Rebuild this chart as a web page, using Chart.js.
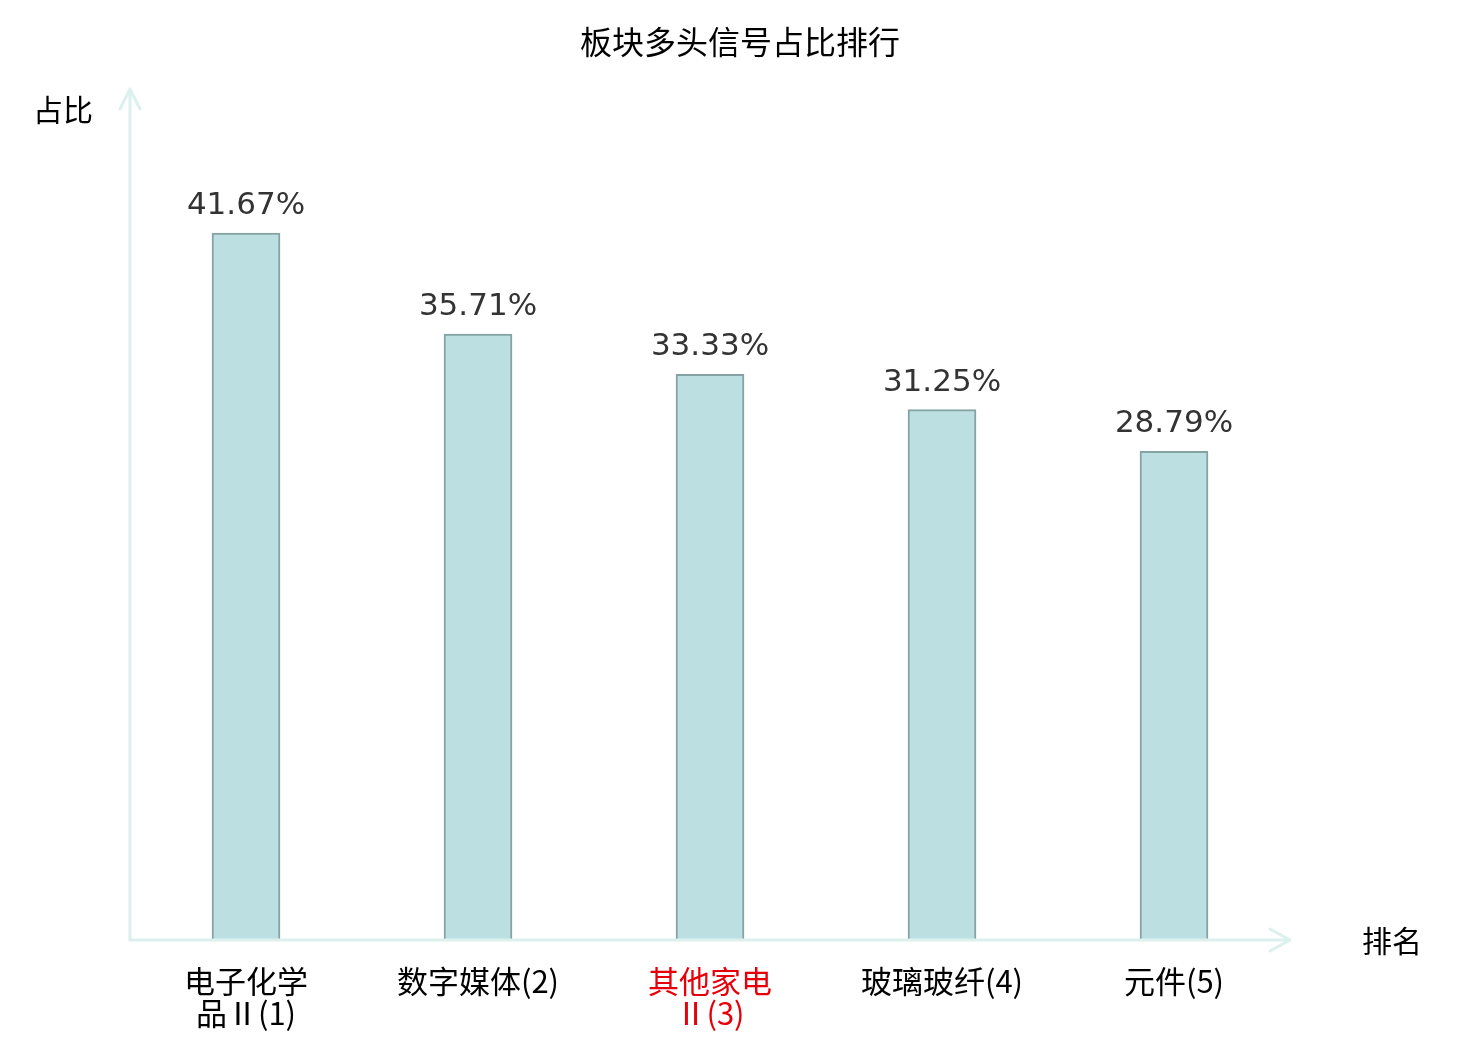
<!DOCTYPE html>
<html>
<head>
<meta charset="utf-8">
<script src="https://cdn.jsdelivr.net/npm/chart.js@4.4.1/dist/chart.umd.min.js"></script>
<style>
  html, body { margin: 0; padding: 0; background: #fff; }
  #wrap { width: 1480px; height: 1040px; }
</style>
</head>
<body>
<div id="wrap"><canvas id="chart"></canvas></div>
<script>
// Daten
const categories = [
    ['电子化学', '品Ⅱ(1)'],
    '数字媒体(2)',
    ['其他家电', 'Ⅱ(3)'],
    '玻璃玻纤(4)',
    '元件(5)'
];
const shares = [41.67, 35.71, 33.33, 31.25, 28.79];
const highlightIndex = 2;

const AXIS_COLOR = '#dcf0ed';
const CJK = '"Noto Sans CJK SC", "Noto Sans", sans-serif';

// Achsen mit Pfeilen, Titel und Wertebeschriftungen
const decorations = {
    id: 'decorations',
    afterDatasetsDraw(chart) {
        const { ctx, chartArea } = chart;
        const left = chartArea.left, bottom = chartArea.bottom + 1;
        const top = chartArea.top - 3, right = chartArea.right;

        ctx.save();
        ctx.strokeStyle = AXIS_COLOR;
        ctx.lineWidth = 3;
        ctx.lineCap = 'round';
        ctx.lineJoin = 'round';

        // y-Achse
        ctx.beginPath();
        ctx.moveTo(left, bottom);
        ctx.lineTo(left, top);
        ctx.moveTo(left - 10, top + 20);
        ctx.lineTo(left, top);
        ctx.lineTo(left + 10, top + 20);
        ctx.stroke();

        // x-Achse
        ctx.beginPath();
        ctx.moveTo(left, bottom);
        ctx.lineTo(right, bottom);
        ctx.moveTo(right - 20, bottom - 11);
        ctx.lineTo(right, bottom);
        ctx.lineTo(right - 20, bottom + 11);
        ctx.stroke();

        // Titel und Achsennamen
        ctx.fillStyle = '#000';
        ctx.textAlign = 'center';
        ctx.textBaseline = 'middle';
        ctx.font = '32px ' + CJK;
        ctx.fillText('板块多头信号占比排行', 740, 42);
        ctx.font = '30px ' + CJK;
        ctx.fillText('占比', 63, 110);
        ctx.fillText('排名', 1392, 941);

        // Werte über den Balken
        const meta = chart.getDatasetMeta(0);
        ctx.fillStyle = '#333';
        ctx.font = '31px "DejaVu Sans", sans-serif';
        ctx.textBaseline = 'alphabetic';
        meta.data.forEach((bar, i) => {
            ctx.fillText(shares[i].toFixed(2) + '%', bar.x, bar.y - 19);
        });
        ctx.restore();
    }
};

new Chart(document.getElementById('chart'), {
    type: 'bar',
    data: {
        labels: categories,
        datasets: [{
            data: shares,
            backgroundColor: '#bce0e2',
            borderColor: '#86a3a3',
            borderWidth: 2,
            borderSkipped: 'bottom',
            barThickness: 68
        }]
    },
    options: {
        responsive: true,
        maintainAspectRatio: false,
        animation: false,
        layout: { padding: { left: 130, right: 190, top: 92, bottom: 0 } },
        plugins: {
            legend: { display: false },
            title: { display: false },
            tooltip: { enabled: false }
        },
        scales: {
            x: {
                grid: { display: false },
                border: { display: false },
                afterFit: scale => { scale.height = 101; },
                ticks: {
                    padding: 18,
                    maxRotation: 0,
                    autoSkip: false,
                    color: c => c.index === highlightIndex ? '#e5000a' : '#000',
                    font: { family: CJK, size: 31, lineHeight: 1.03 }
                }
            },
            y: {
                display: false,
                min: 0,
                max: 50
            }
        }
    },
    plugins: [decorations]
});
</script>
</body>
</html>
